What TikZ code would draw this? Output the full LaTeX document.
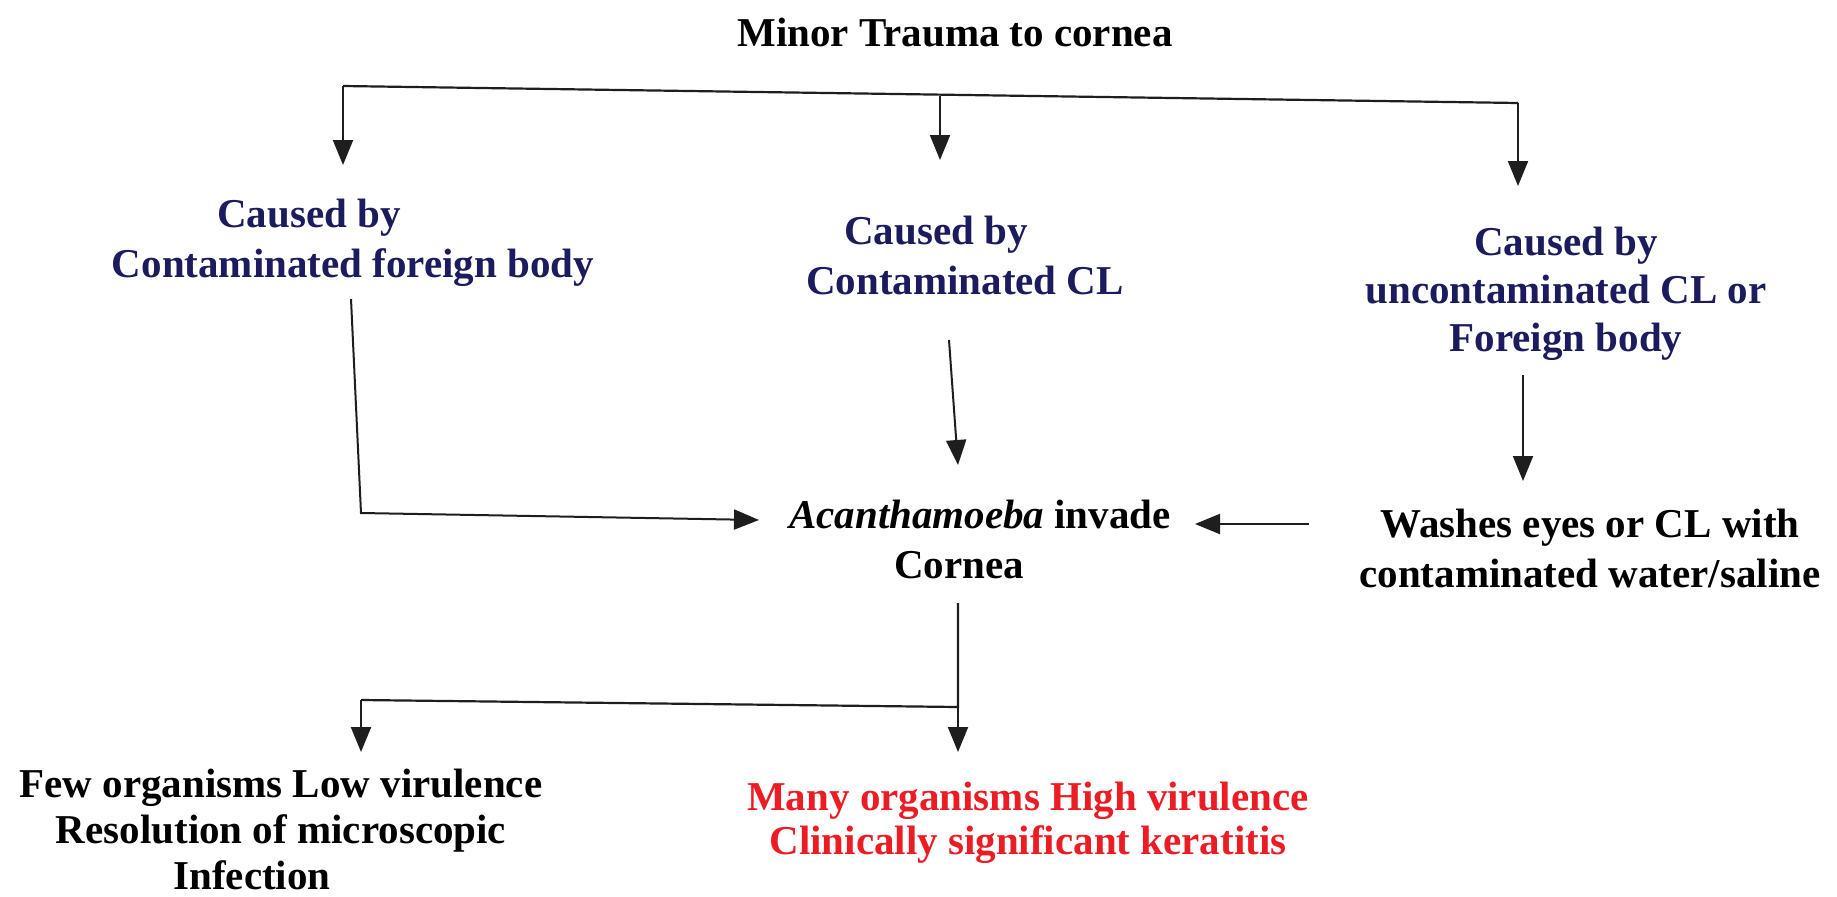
\documentclass[tikz,border=0pt]{standalone}
\usepackage{fontspec}
\setmainfont{Liberation Serif}
\usetikzlibrary{arrows.meta}
\definecolor{navy}{HTML}{1B1B5E}
\definecolor{redt}{HTML}{EC1C24}
\definecolor{lnc}{HTML}{1E1E1E}
\begin{document}
\begin{tikzpicture}[x=1pt,y=-1pt,
  txt/.style={font=\bfseries\fontsize{41}{50}\selectfont, align=center, inner sep=0pt},
  arr/.style={draw=lnc, line width=2pt, -{Triangle[length=25pt,width=20pt]}},
  bar/.style={draw=lnc, line width=2.2pt}]
\useasboundingbox (0,0) rectangle (1837,897);
\fill[white] (0,0) rectangle (1837,897);
% nodes
\node[txt] (title) at (955,33) {Minor Trauma to cornea};
\node[txt, text=navy] (n1) at (353,243) {Caused by\hspace*{88pt}\\Contaminated foreign body};
\node[txt, text=navy] (n2) at (965,255) {Caused by\hspace*{58pt}\\Contaminated CL};
\node[txt, text=navy, font=\bfseries\fontsize{41}{48}\selectfont] (n3) at (1566,294) {Caused by\\uncontaminated CL or\\Foreign body};
\node[txt] (ac) at (980,539) {\textit{Acanthamoeba} invade\\Cornea\hspace*{42pt}};
\node[txt] (wa) at (1590,548) {Washes eyes or CL with\\contaminated water/saline};
\node[txt, font=\bfseries\fontsize{41}{46}\selectfont] (few) at (281,829) {Few organisms Low virulence\\Resolution of microscopic\\Infection\hspace*{58pt}};
\node[txt, text=redt, font=\bfseries\fontsize{41}{44}\selectfont] (many) at (1028,823) {Many organisms High virulence\\Clinically significant keratitis};
% top fork
\coordinate (bL) at (343,86);
\coordinate (bM) at (940,96);
\coordinate (bR) at (1518,103);
\coordinate (tL) at (343,165);
\coordinate (tM) at (940,160);
\coordinate (tR) at (1518,186);
\draw[bar] (bL) -- (bR);
\draw[arr] (bL) -- (tL);
\draw[arr] (bM) -- (tM);
\draw[arr] (bR) -- (tR);
% left branch to acanthamoeba
\coordinate (n1S) at (351,299);
\coordinate (lc) at (361,513);
\coordinate (acW) at (759,520);
\draw[arr] (n1S) -- (lc) -- (acW);
% middle branch
\coordinate (n2S) at (949,340);
\coordinate (acN) at (958,465);
\draw[arr] (n2S) -- (acN);
% right
\coordinate (n3S) at (1523,375);
\coordinate (waN) at (1523,481);
\coordinate (waW) at (1309,524);
\coordinate (acE) at (1195,524);
\draw[arr] (n3S) -- (waN);
\draw[arr] (waW) -- (acE);
% bottom fork
\coordinate (acS) at (958,603);
\coordinate (fM) at (958,707);
\coordinate (fL) at (361,700);
\draw[bar] (acS) -- (fM) -- (fL);
\draw[arr] (fL) -- (361,752);
\draw[arr] (fM) -- (958,752);
\end{tikzpicture}
\end{document}
